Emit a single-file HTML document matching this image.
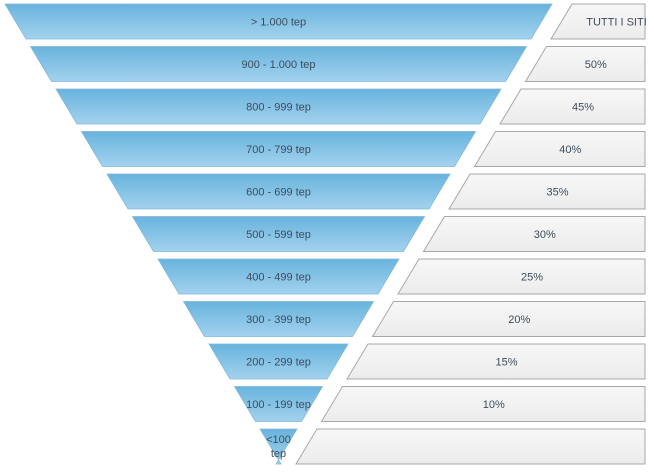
<!DOCTYPE html>
<html><head><meta charset="utf-8"><style>
body{margin:0;background:#fff;}
svg{display:block;font-family:"Liberation Sans",sans-serif;}
</style></head><body>
<svg id="chart" width="654" height="474" viewBox="0 0 654 474">
<defs>
<linearGradient id="g" x1="0" y1="0" x2="0" y2="1"><stop offset="0" stop-color="#68b3dd"/><stop offset="1" stop-color="#a3d2ee"/></linearGradient>
<linearGradient id="gb" x1="0" y1="0" x2="0" y2="1"><stop offset="0" stop-color="#f7f7f7"/><stop offset="1" stop-color="#ececec"/></linearGradient>
</defs>
</svg>
<script>
const categories=["> 1.000 tep","900 - 1.000 tep","800 - 999 tep","700 - 799 tep","600 - 699 tep","500 - 599 tep","400 - 499 tep","300 - 399 tep","200 - 299 tep","100 - 199 tep","<100 tep"];
const values=["TUTTI I SITI","50%","45%","40%","35%","30%","25%","20%","15%","10%",""];
const svg=document.getElementById('chart');
const NS='http://www.w3.org/2000/svg';
const top0=4,pitch=42.5,h=35,slope=0.6;
const leftX=y=>5+slope*(y-4);
const rightX=y=>552-slope*(y-4);
const boxOff=20,boxRight=645;
categories.forEach((c,i)=>{
  const y0=top0+pitch*i,y1=y0+h;
  const p=document.createElementNS(NS,'polygon');
  p.setAttribute('points',`${leftX(y0)},${y0} ${rightX(y0)},${y0} ${rightX(y1)},${y1} ${leftX(y1)},${y1}`);
  p.setAttribute('fill','url(#g)');p.setAttribute('stroke','#7fb9d9');p.setAttribute('stroke-width','0.8');
  
  
  svg.appendChild(p);
  const cx=(leftX(y0)+rightX(y0))/2;
  const t=document.createElementNS(NS,'text');
  t.setAttribute('text-anchor','middle');t.setAttribute('font-size','11');t.setAttribute('fill','#3d4d5e');
  
  
  if(c==="<100 tep"){
    const a=document.createElementNS(NS,'tspan');a.setAttribute('x',cx);a.setAttribute('y',y0+14);a.textContent="<100";t.appendChild(a);
    const b=document.createElementNS(NS,'tspan');b.setAttribute('x',cx);b.setAttribute('y',y0+28);b.textContent="tep";t.appendChild(b);
  } else {t.setAttribute('x',cx);t.setAttribute('y',y0+h/2+4);t.textContent=c;}
  svg.appendChild(t);
  const bx0=rightX(y0)+boxOff,bx1=rightX(y1)+boxOff;
  const b=document.createElementNS(NS,'polygon');
  b.setAttribute('points',`${bx0},${y0} ${boxRight},${y0} ${boxRight},${y1} ${bx1},${y1}`);
  b.setAttribute('fill','url(#gb)');b.setAttribute('stroke','#a8a8a8');b.setAttribute('stroke-width','1');
  
  
  svg.appendChild(b);
  if(values[i]){
    const vt=document.createElementNS(NS,'text');
    vt.setAttribute('x',(Math.max(bx0,bx1)+boxRight)/2+ (i===0?8:0) - (i===0?0:0));
    vt.setAttribute('y',y0+h/2+4);vt.setAttribute('text-anchor','middle');vt.setAttribute('font-size','11');vt.setAttribute('fill','#3d4d5e');
    
    
    vt.textContent=values[i];svg.appendChild(vt);
  }
});
</script>
</body></html>
